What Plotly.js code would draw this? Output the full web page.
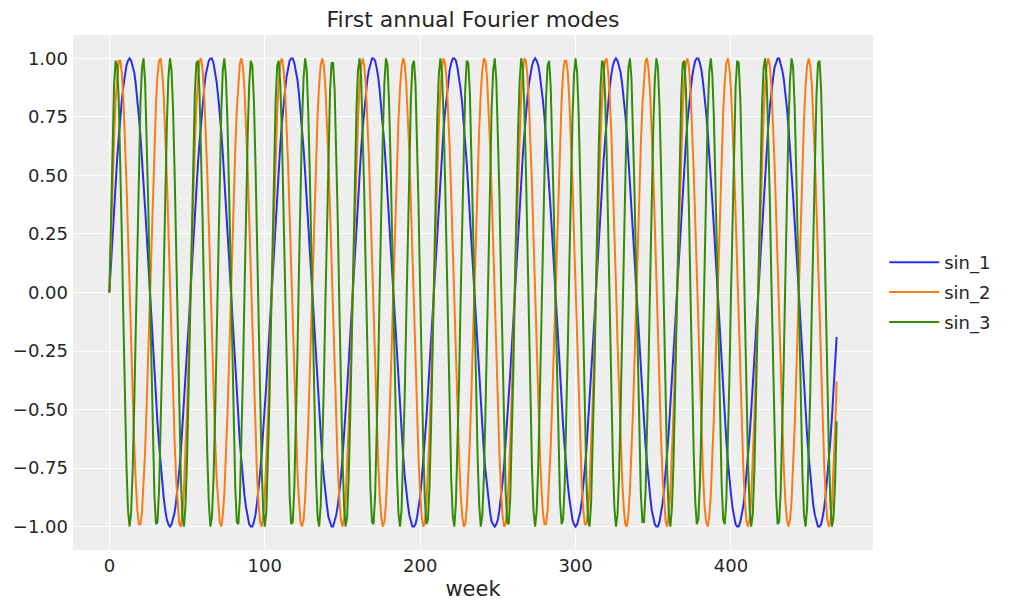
<!DOCTYPE html>
<html>
<head>
<meta charset="utf-8">
<script src="https://cdn.plot.ly/plotly-3.0.1.min.js"></script>
<style>
  html, body { margin: 0; padding: 0; background: #ffffff; }
  #chart { width: 1011px; height: 611px; }
</style>
</head>
<body>
<div id="chart"></div>
<script>
// Values (one row per 52 weeks)
const seriesNames = ["sin_1", "sin_2", "sin_3"];
const seriesColors = ["#2a2eec", "#fa7c17", "#328c06"];
const xTickValues = [0, 100, 200, 300, 400];
const yTickValues = [-1, -0.75, -0.5, -0.25, 0, 0.25, 0.5, 0.75, 1];

const sin_1 = [
  0.00,0.12,0.24,0.35,0.46,0.57,0.66,0.75,0.82,0.88,0.93,0.97,0.99,1.00,0.99,0.97,0.94,0.89,0.83,0.75,0.67,0.58,0.47,0.36,0.25,0.13,0.01,-0.11,-0.23,-0.34,-0.45,-0.56,-0.65,-0.74,-0.81,-0.88,-0.93,-0.97,-0.99,-1.00,-0.99,-0.97,-0.94,-0.89,-0.83,-0.76,-0.68,-0.58,-0.48,-0.37,-0.26,-0.14,
  -0.02,0.10,0.22,0.33,0.44,0.55,0.64,0.73,0.81,0.87,0.93,0.96,0.99,1.00,1.00,0.98,0.94,0.90,0.84,0.77,0.69,0.59,0.49,0.38,0.27,0.15,0.03,-0.09,-0.21,-0.32,-0.43,-0.54,-0.64,-0.72,-0.80,-0.87,-0.92,-0.96,-0.99,-1.00,-1.00,-0.98,-0.95,-0.90,-0.84,-0.77,-0.69,-0.60,-0.50,-0.39,-0.28,-0.16,
  -0.04,0.08,0.20,0.31,0.42,0.53,0.63,0.72,0.80,0.86,0.92,0.96,0.99,1.00,1.00,0.98,0.95,0.91,0.85,0.78,0.70,0.61,0.51,0.40,0.29,0.17,0.05,-0.07,-0.19,-0.30,-0.41,-0.52,-0.62,-0.71,-0.79,-0.86,-0.91,-0.96,-0.98,-1.00,-1.00,-0.98,-0.95,-0.91,-0.86,-0.79,-0.71,-0.62,-0.52,-0.41,-0.30,-0.18,
  -0.06,0.06,0.18,0.29,0.41,0.51,0.61,0.70,0.78,0.85,0.91,0.95,0.98,1.00,1.00,0.99,0.96,0.92,0.86,0.79,0.72,0.63,0.53,0.42,0.31,0.19,0.08,-0.05,-0.16,-0.28,-0.40,-0.50,-0.60,-0.69,-0.78,-0.85,-0.90,-0.95,-0.98,-1.00,-1.00,-0.99,-0.96,-0.92,-0.87,-0.80,-0.72,-0.63,-0.54,-0.43,-0.32,-0.21,
  -0.09,0.03,0.15,0.27,0.39,0.49,0.59,0.69,0.77,0.84,0.90,0.95,0.98,1.00,1.00,0.99,0.96,0.92,0.87,0.81,0.73,0.64,0.55,0.44,0.33,0.22,0.10,-0.02,-0.14,-0.26,-0.38,-0.48,-0.59,-0.68,-0.76,-0.83,-0.89,-0.94,-0.98,-0.99,-1.00,-0.99,-0.97,-0.93,-0.88,-0.81,-0.74,-0.65,-0.56,-0.45,-0.34,-0.23,
  -0.11,0.01,0.13,0.25,0.37,0.47,0.58,0.67,0.76,0.83,0.89,0.94,0.97,0.99,1.00,0.99,0.97,0.93,0.88,0.82,0.75,0.66,0.56,0.46,0.35,0.24,0.12,0.00,-0.12,-0.24,-0.36,-0.47,-0.57,-0.66,-0.75,-0.82,-0.88,-0.93,-0.97,-0.99,-1.00,-0.99,-0.97,-0.94,-0.89,-0.83,-0.75,-0.67,-0.57,-0.47,-0.36,-0.25,
  -0.13,-0.01,0.11,0.23,0.35,0.46,0.56,0.65,0.74,0.82,0.88,0.93,0.97,0.99,1.00,0.99,0.97,0.94,0.89,0.83,0.76,0.68,0.58,0.48,0.37,0.26,0.14,0.02,-0.10,-0.22,-0.34,-0.45,-0.55,-0.65,-0.73,-0.81,-0.87,-0.93,-0.96,-0.99,-1.00,-1.00,-0.98,-0.94,-0.90,-0.84,-0.77,-0.68,-0.59,-0.49,-0.38,-0.27,
  -0.15,-0.03,0.09,0.21,0.33,0.44,0.54,0.64,0.73,0.80,0.87,0.92,0.96,0.99,1.00,1.00,0.98,0.95,0.90,0.84,0.77,0.69,0.60,0.50,0.39,0.28,0.16,0.04,-0.08,-0.20,-0.31,-0.43,-0.53,-0.63,-0.72,-0.80,-0.86,-0.92,-0.96,-0.99,-1.00,-1.00,-0.98,-0.95,-0.91,-0.85,-0.78,-0.70,-0.61,-0.51,-0.40,-0.29,
  -0.17,-0.05,0.07,0.19,0.30,0.42,0.52,0.62,0.71,0.79,0.86,0.91,0.96,0.98,1.00,1.00,0.98,0.95,0.91,0.86,0.79,0.71,0.62,0.52,0.41,0.30,0.18,0.06,-0.06,-0.18,-0.29,-0.41,-0.51,-0.61,-0.70,-0.78,-0.85,-0.91,-0.95,-0.98,-1.00,-1.00,-0.99,-0.96,-0.92,-0.86,-0.79,-0.71,-0.63,-0.53,-0.42,-0.31,
  -0.19
];

const sin_2 = [
  0.00,0.24,0.46,0.66,0.82,0.93,0.99,0.99,0.94,0.83,0.67,0.47,0.25,0.01,-0.23,-0.45,-0.65,-0.81,-0.93,-0.99,-0.99,-0.94,-0.83,-0.68,-0.48,-0.26,-0.02,0.22,0.44,0.64,0.81,0.93,0.99,1.00,0.94,0.84,0.69,0.49,0.27,0.03,-0.21,-0.43,-0.64,-0.80,-0.92,-0.99,-1.00,-0.95,-0.84,-0.69,-0.50,-0.28,
  -0.04,0.20,0.42,0.63,0.80,0.92,0.99,1.00,0.95,0.85,0.70,0.51,0.29,0.05,-0.19,-0.41,-0.62,-0.79,-0.91,-0.98,-1.00,-0.95,-0.86,-0.71,-0.52,-0.30,-0.06,0.18,0.41,0.61,0.78,0.91,0.98,1.00,0.96,0.86,0.72,0.53,0.31,0.08,-0.16,-0.40,-0.60,-0.78,-0.90,-0.98,-1.00,-0.96,-0.87,-0.72,-0.54,-0.32,
  -0.09,0.15,0.39,0.59,0.77,0.90,0.98,1.00,0.96,0.87,0.73,0.55,0.33,0.10,-0.14,-0.38,-0.59,-0.76,-0.89,-0.98,-1.00,-0.97,-0.88,-0.74,-0.56,-0.34,-0.11,0.13,0.37,0.58,0.76,0.89,0.97,1.00,0.97,0.88,0.75,0.56,0.35,0.12,-0.12,-0.36,-0.57,-0.75,-0.88,-0.97,-1.00,-0.97,-0.89,-0.75,-0.57,-0.36,
  -0.13,0.11,0.35,0.56,0.74,0.88,0.97,1.00,0.97,0.89,0.76,0.58,0.37,0.14,-0.10,-0.34,-0.55,-0.73,-0.87,-0.96,-1.00,-0.98,-0.90,-0.77,-0.59,-0.38,-0.15,0.09,0.33,0.54,0.73,0.87,0.96,1.00,0.98,0.90,0.77,0.60,0.39,0.16,-0.08,-0.31,-0.53,-0.72,-0.86,-0.96,-1.00,-0.98,-0.91,-0.78,-0.61,-0.40,
  -0.17,0.07,0.30,0.52,0.71,0.86,0.96,1.00,0.98,0.91,0.79,0.62,0.41,0.18,-0.06,-0.29,-0.51,-0.70,-0.85,-0.95,-1.00,-0.99,-0.92,-0.79,-0.63,-0.42,-0.19,0.05,0.28,0.50,0.70,0.85,0.95,1.00,0.99,0.92,0.80,0.63,0.43,0.20,-0.04,-0.27,-0.50,-0.69,-0.84,-0.95,-1.00,-0.99,-0.92,-0.81,-0.64,-0.44,
  -0.21,0.03,0.26,0.49,0.68,0.84,0.94,1.00,0.99,0.93,0.81,0.65,0.45,0.22,-0.02,-0.25,-0.48,-0.67,-0.83,-0.94,-0.99,-0.99,-0.93,-0.82,-0.66,-0.46,-0.23,0.00,0.24,0.47,0.66,0.82,0.94,0.99,0.99,0.94,0.82,0.67,0.47,0.24,0.01,-0.23,-0.46,-0.66,-0.82,-0.93,-0.99,-0.99,-0.94,-0.83,-0.67,-0.48,
  -0.26,-0.02,0.22,0.45,0.65,0.81,0.93,0.99,1.00,0.94,0.84,0.68,0.49,0.27,0.03,-0.21,-0.44,-0.64,-0.80,-0.92,-0.99,-1.00,-0.95,-0.84,-0.69,-0.50,-0.28,-0.04,0.20,0.43,0.63,0.80,0.92,0.99,1.00,0.95,0.85,0.70,0.51,0.29,0.05,-0.19,-0.42,-0.62,-0.79,-0.91,-0.98,-1.00,-0.95,-0.85,-0.71,-0.52,
  -0.30,-0.06,0.18,0.41,0.61,0.79,0.91,0.98,1.00,0.96,0.86,0.71,0.52,0.31,0.07,-0.17,-0.40,-0.61,-0.78,-0.91,-0.98,-1.00,-0.96,-0.87,-0.72,-0.53,-0.32,-0.08,0.16,0.39,0.60,0.77,0.90,0.98,1.00,0.96,0.87,0.73,0.54,0.33,0.09,-0.15,-0.38,-0.59,-0.76,-0.90,-0.98,-1.00,-0.97,-0.88,-0.74,-0.55,
  -0.34,-0.10,0.14,0.37,0.58,0.76,0.89,0.97,1.00,0.97,0.88,0.74,0.56,0.35,0.11,-0.13,-0.36,-0.57,-0.75,-0.89,-0.97,-1.00,-0.97,-0.89,-0.75,-0.57,-0.36,-0.12,0.12,0.35,0.56,0.74,0.88,0.97,1.00,0.97,0.89,0.76,0.58,0.37,0.14,-0.11,-0.34,-0.55,-0.74,-0.88,-0.97,-1.00,-0.98,-0.90,-0.76,-0.59,
  -0.38
];

const sin_3 = [
  0.00,0.35,0.66,0.88,0.99,0.97,0.83,0.58,0.25,-0.11,-0.45,-0.74,-0.93,-1.00,-0.94,-0.76,-0.48,-0.14,0.22,0.55,0.81,0.96,1.00,0.90,0.69,0.38,0.03,-0.32,-0.64,-0.87,-0.99,-0.98,-0.84,-0.60,-0.28,0.08,0.42,0.72,0.92,1.00,0.95,0.78,0.51,0.17,-0.19,-0.52,-0.79,-0.96,-1.00,-0.91,-0.71,-0.41,
  -0.06,0.29,0.61,0.85,0.98,0.99,0.86,0.63,0.31,-0.05,-0.40,-0.69,-0.90,-1.00,-0.96,-0.80,-0.54,-0.21,0.15,0.49,0.77,0.95,1.00,0.92,0.73,0.44,0.10,-0.26,-0.59,-0.83,-0.98,-0.99,-0.88,-0.65,-0.34,0.01,0.37,0.67,0.89,0.99,0.97,0.82,0.56,0.24,-0.12,-0.47,-0.75,-0.93,-1.00,-0.94,-0.75,-0.47,
  -0.13,0.23,0.56,0.82,0.97,0.99,0.89,0.68,0.37,0.02,-0.34,-0.65,-0.87,-0.99,-0.98,-0.84,-0.59,-0.27,0.09,0.44,0.73,0.92,1.00,0.95,0.77,0.50,0.16,-0.20,-0.53,-0.80,-0.96,-1.00,-0.91,-0.70,-0.40,-0.05,0.30,0.62,0.86,0.98,0.98,0.86,0.62,0.30,-0.06,-0.41,-0.70,-0.91,-1.00,-0.96,-0.79,-0.53,
  -0.19,0.17,0.50,0.78,0.95,1.00,0.92,0.72,0.43,0.08,-0.27,-0.60,-0.84,-0.98,-0.99,-0.87,-0.64,-0.33,0.03,0.38,0.68,0.90,1.00,0.97,0.81,0.55,0.22,-0.14,-0.48,-0.76,-0.94,-1.00,-0.93,-0.74,-0.46,-0.12,0.24,0.57,0.82,0.97,0.99,0.89,0.67,0.36,0.01,-0.35,-0.66,-0.88,-0.99,-0.97,-0.83,-0.58,
  -0.26,0.10,0.45,0.74,0.93,1.00,0.94,0.76,0.49,0.15,-0.21,-0.54,-0.80,-0.96,-1.00,-0.90,-0.69,-0.39,-0.04,0.32,0.63,0.87,0.99,0.98,0.85,0.61,0.29,-0.07,-0.42,-0.71,-0.91,-1.00,-0.95,-0.79,-0.52,-0.18,0.18,0.52,0.79,0.95,1.00,0.91,0.71,0.42,0.07,-0.29,-0.61,-0.85,-0.98,-0.99,-0.87,-0.63,
  -0.32,0.04,0.39,0.69,0.90,1.00,0.96,0.80,0.54,0.21,-0.15,-0.49,-0.76,-0.94,-1.00,-0.93,-0.74,-0.45,-0.10,0.26,0.58,0.83,0.97,0.99,0.88,0.66,0.35,-0.01,-0.36,-0.67,-0.89,-0.99,-0.97,-0.82,-0.57,-0.24,0.12,0.46,0.74,0.93,1.00,0.94,0.76,0.48,0.14,-0.22,-0.55,-0.81,-0.97,-1.00,-0.90,-0.68,
  -0.38,-0.03,0.33,0.64,0.87,0.99,0.98,0.84,0.60,0.27,-0.08,-0.43,-0.72,-0.92,-1.00,-0.95,-0.78,-0.50,-0.17,0.19,0.53,0.79,0.96,1.00,0.91,0.70,0.41,0.06,-0.30,-0.62,-0.86,-0.98,-0.98,-0.86,-0.62,-0.30,0.05,0.40,0.70,0.91,1.00,0.96,0.80,0.53,0.20,-0.16,-0.50,-0.77,-0.95,-1.00,-0.92,-0.73,
  -0.44,-0.09,0.27,0.59,0.84,0.98,0.99,0.87,0.65,0.34,-0.02,-0.37,-0.68,-0.89,-0.99,-0.97,-0.82,-0.56,-0.23,0.13,0.47,0.75,0.94,1.00,0.93,0.75,0.47,0.12,-0.24,-0.56,-0.82,-0.97,-0.99,-0.89,-0.67,-0.37,-0.01,0.34,0.65,0.88,0.99,0.98,0.83,0.59,0.26,-0.10,-0.44,-0.73,-0.92,-1.00,-0.95,-0.77,
  -0.49,-0.15,0.20,0.54,0.80,0.96,1.00,0.90,0.69,0.40,0.05,-0.31,-0.63,-0.86,-0.99,-0.98,-0.85,-0.61,-0.29,0.06,0.41,0.71,0.91,1.00,0.96,0.79,0.52,0.19,-0.17,-0.51,-0.78,-0.95,-1.00,-0.92,-0.72,-0.43,-0.08,0.28,0.60,0.84,0.98,0.99,0.87,0.64,0.32,-0.03,-0.38,-0.68,-0.90,-1.00,-0.96,-0.81,
  -0.55
];

const seriesValues = [sin_1, sin_2, sin_3];
// week index of each sample (0, 1, 2, ...)
const week = sin_1.map((_, i) => i);

const FONT = "DejaVu Sans, Liberation Sans, sans-serif";
const TEXT = "#262626";

const traces = seriesValues.map((vals, k) => ({
  type: "scatter",
  mode: "lines",
  name: seriesNames[k],
  legendgroup: seriesNames[k],
  x: week,
  y: vals,
  line: { color: seriesColors[k], width: 2 },
  hoverinfo: "skip"
}));

const layout = {
  width: 1011,
  height: 611,
  margin: { l: 73, r: 138, t: 35, b: 61, pad: 0 },
  paper_bgcolor: "#ffffff",
  plot_bgcolor: "#eeeeee",
  font: { family: FONT, size: 18, color: TEXT },
  title: {
    text: "First annual Fourier modes",
    font: { family: FONT, size: 22, color: TEXT },
    xref: "paper", x: 0.5, xanchor: "center",
    yref: "container", y: 0.969, yanchor: "middle"
  },
  xaxis: {
    range: [-23.4, 491.4],
    tickmode: "array",
    tickvals: xTickValues,
    ticktext: xTickValues.map(String),
    showgrid: true, gridcolor: "#ffffff", gridwidth: 1,
    zeroline: false, showline: false, ticks: "",
    tickfont: { family: FONT, size: 18, color: TEXT },
    ticklabelstandoff: 3,
    title: { text: "week", font: { family: FONT, size: 21, color: TEXT }, standoff: 6 }
  },
  yaxis: {
    range: [-1.1, 1.1],
    tickmode: "array",
    tickvals: yTickValues,
    ticktext: yTickValues.map(v => (v < 0 ? "\u2212" : "") + Math.abs(v).toFixed(2)),
    showgrid: true, gridcolor: "#ffffff", gridwidth: 1,
    zeroline: false, showline: false, ticks: "",
    tickfont: { family: FONT, size: 18, color: TEXT },
    ticklabelstandoff: 4
  },
  showlegend: true,
  legend: {
    x: 1.014, xanchor: "left",
    y: 0.5, yanchor: "middle",
    bgcolor: "rgba(0,0,0,0)",
    borderwidth: 0,
    font: { family: FONT, size: 18, color: TEXT },
    itemwidth: 50,
    traceorder: "grouped",
    tracegroupgap: 3.5
  },
  hovermode: false
};

Plotly.newPlot("chart", traces, layout, { displayModeBar: false, staticPlot: true });
</script>
</body>
</html>
